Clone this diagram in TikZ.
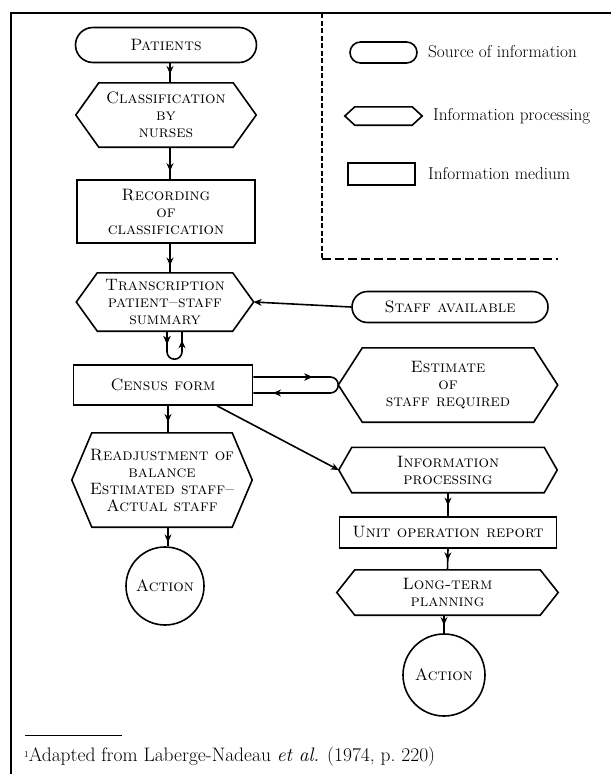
\documentclass[tikz,border=0pt]{standalone}
\usepackage{fontspec}
\usetikzlibrary{calc,arrows.meta,decorations.markings,shapes.misc}
\newcommand\myboxfont{\fontsize{16.5}{17}\selectfont\scshape}
\newcommand\mylegfont{\fontsize{17.2}{19}\selectfont}
\newcommand\mynotefont{\fontsize{19.5}{21}\selectfont}
\newcommand\hexdraw[2]{\draw[lw] ($(#1.north west)+(#2,0)$) -- ($(#1.north east)+(-#2,0)$) -- (#1.east) -- ($(#1.south east)+(-#2,0)$) -- ($(#1.south west)+(#2,0)$) -- (#1.west) -- cycle;}
\begin{document}
\begin{tikzpicture}[x=1pt,y=1pt,
  every node/.style={inner sep=0pt, align=center, font=\myboxfont},
  lw/.style={line width=1.6pt},
  stadium/.style={rounded rectangle, draw, lw},
  boxrect/.style={rectangle, draw, lw},
  hexnode/.style={rectangle},
  actioncirc/.style={circle, draw, lw},
  sz/.style 2 args={minimum width=#1pt, minimum height=#2pt},
  arr/.style={lw, -{Stealth[length=8pt,width=7pt]}},
  midarr/.style={lw, decoration={markings, mark=at position #1 with {\arrow{Stealth[length=8pt,width=7pt]}}}, postaction={decorate}},
  plaintext/.style={font=\mylegfont, anchor=west, align=left},
  frameline/.style={line width=1.8pt},
  legdash/.style={line width=1.8pt, dash pattern=on 5pt off 2.5pt}
]
\useasboundingbox (0,0) rectangle (611,-774);
% frame
\coordinate (fbl) at (11,-774);
\coordinate (ftl) at (11,-13);
\coordinate (ftr) at (611,-13);
\draw[frameline] (fbl) -- (ftl) -- (ftr);
% legend box
\coordinate (d1) at (322,-13);
\coordinate (d2) at (322,-259);
\coordinate (d3) at (558,-259);
\draw[legdash] (d1) -- (d2);
\draw[line width=1.8pt, dash pattern=on 9pt off 4pt] (d2) -- (d3);
\node[stadium, sz={67}{21}] (lg1) at (383.5,-52.5) {};
\node[hexnode, sz={77}{18}] (lg2) at (383.5,-116) {};
\hexdraw{lg2}{10}
\node[boxrect, sz={67}{22}] (lg3) at (381.5,-174) {};
\node[plaintext] (lt1) at (428,-52) {Source of information};
\node[plaintext] (lt2) at (433,-116) {Information processing};
\node[plaintext] (lt3) at (428,-174) {Information medium};
% main column
\node[stadium, sz={181}{35}] (pat) at (166,-45) {Patients};
\node[hexnode, sz={180}{64}] (cls) at (166,-115) {Classification\\by\\nurses};
\hexdraw{cls}{23}
\node[boxrect, sz={178}{63}] (rec) at (166,-211.5) {Recording\\of\\classification};
\node[hexnode, sz={177}{58}] (tra) at (165,-302) {Transcription\\patient--staff\\summary};
\hexdraw{tra}{21}
\node[boxrect, sz={179}{40}] (cen) at (163,-385) {Census form};
\node[hexnode, sz={180}{94}] (rea) at (162,-480) {Readjustment of\\balance\\Estimated staff--\\Actual staff};
\hexdraw{rea}{20}
\node[actioncirc, minimum size=78pt] (actl) at (165,-586) {Action};
% right column
\node[stadium, sz={196}{31}] (sta) at (450,-307) {Staff available};
\node[hexnode, sz={219}{74}] (est) at (448,-385) {Estimate\\of\\staff required};
\hexdraw{est}{24}
\node[hexnode, sz={218}{45}] (inf) at (448,-470) {Information\\processing};
\hexdraw{inf}{13}
\node[boxrect, sz={217}{31}] (uni) at (448,-532.5) {Unit operation report};
\node[hexnode, sz={221}{45}] (lon) at (447.5,-592.5) {Long-term\\planning};
\hexdraw{lon}{18}
\node[actioncirc, minimum size=82pt] (actr) at (444,-675) {Action};
% connectors
\draw[midarr=0.55] ([xshift=4pt]pat.south) -- ([xshift=4pt]cls.north);
\draw[midarr=0.75] ([xshift=4pt]cls.south) -- ([xshift=4pt]rec.north);
\draw[midarr=0.75] ([xshift=4pt]rec.south) -- ([xshift=5pt]tra.north);
\draw[arr] (sta.west) -- (tra.east);
\draw[midarr=0.2, postaction={decoration={markings, mark=at position 0.86 with {\arrow{Stealth[length=8pt,width=7pt]}}}, decorate}]
  ([xshift=2pt]tra.south) -- ([xshift=4pt,yshift=12.5pt]cen.north) arc[start angle=180, end angle=360, radius=7.5pt] -- ([xshift=17pt]tra.south);
\draw[midarr=0.33, postaction={decoration={markings, mark=at position 0.89 with {\arrow{Stealth[length=8pt,width=7pt]}}}, decorate}]
  ([yshift=8pt]cen.east) -- ([yshift=8pt,xshift=-8pt]est.west) arc[start angle=90, end angle=-90, radius=8pt] -- ([yshift=-8pt]cen.east);
\draw[arr] ([xshift=54pt]cen.south) -- (inf.west);
\draw[midarr=0.6] ([xshift=5pt]cen.south) -- ([xshift=6pt]rea.north);
\draw[midarr=0.8] ([xshift=6pt]rea.south) -- ([xshift=3pt]actl.north);
\draw[midarr=0.55] (inf.south) -- (uni.north);
\draw[midarr=0.55] (uni.south) -- (lon.north);
\draw[midarr=0.55] ([xshift=-3.5pt]lon.south) -- (actr.north);
% footnote
\coordinate (fn1) at (25,-735);
\coordinate (fn2) at (122,-735);
\draw[line width=1pt] (fn1) -- (fn2);
\node[font=\mynotefont, anchor=west] (fnt) at (24,-757) {{\fontsize{9}{9}\selectfont\raisebox{1.1ex}{1}}Adapted from Laberge-Nadeau \textit{et al.} (1974, p.~220)};
\end{tikzpicture}
\end{document}
